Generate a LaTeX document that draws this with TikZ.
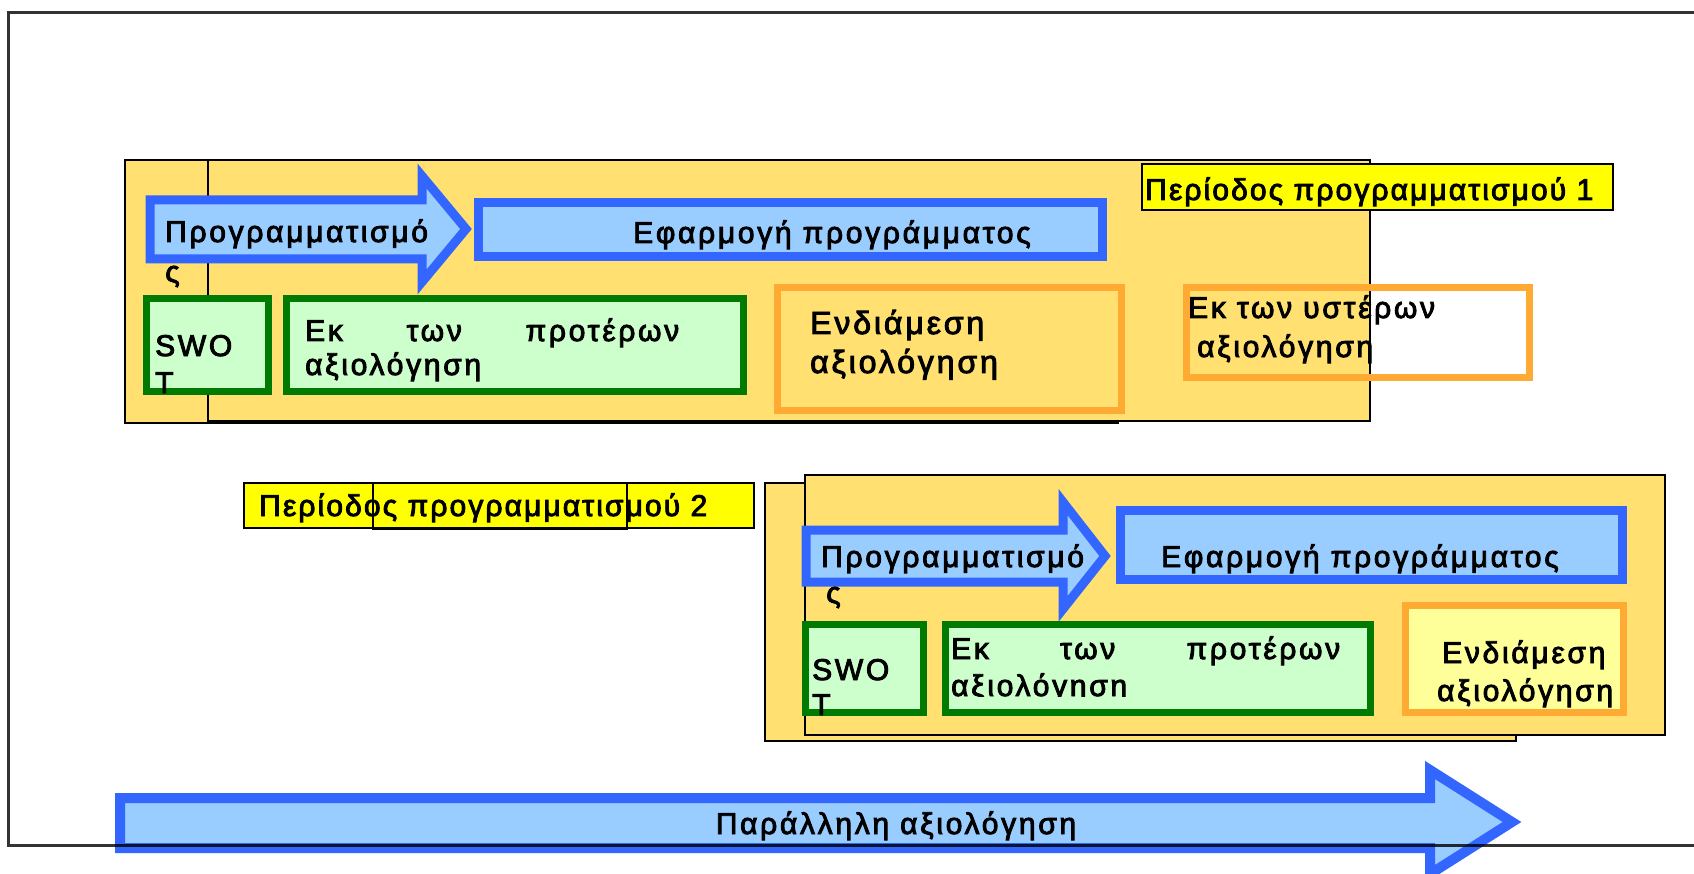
\documentclass[tikz,border=0pt]{standalone}
\usepackage{fontspec}
\setmainfont{Liberation Sans}
\newfontfamily\trk{Liberation Sans}[LetterSpace=9, FakeBold=3]
\newfontfamily\trkb{Liberation Sans}[LetterSpace=9, FakeBold=3]
\newfontfamily\trkl{Liberation Sans}[LetterSpace=7, FakeBold=3]
\definecolor{bigfill}{HTML}{FFE070}
\definecolor{blueline}{HTML}{3366FF}
\definecolor{bluefill}{HTML}{99CCFF}
\definecolor{greenline}{HTML}{007A00}
\definecolor{greenfill}{HTML}{CCFFCC}
\definecolor{orangeline}{HTML}{FFAA33}
\definecolor{paleyellow}{HTML}{FFFF99}
\definecolor{labelyellow}{HTML}{FFFF00}
\tikzset{
  bigbox/.style={draw=black, line width=2pt, fill=bigfill},
  bluebox/.style={draw=blueline, line width=9pt, fill=bluefill, line join=miter, miter limit=20},
  greenbox/.style={draw=greenline, line width=7pt, fill=greenfill},
  orangebox/.style={draw=orangeline, line width=7pt},
  labelbox/.style={draw=black, line width=2pt, fill=labelyellow},
  txt/.style={inner sep=0pt, anchor=base west, font={\trk\fontsize{30}{34}\selectfont}},
  txtc/.style={txt, anchor=base},
  txtbig/.style={inner sep=0pt, anchor=base west, font={\trkb\fontsize{32}{36}\selectfont}},
  lbltxt/.style={inner sep=0pt, anchor=base west, font={\trkl\fontsize{30}{34}\selectfont}},
}
\begin{document}
\begin{tikzpicture}[x=1pt,y=-1pt]
\useasboundingbox (0,0) rectangle (1694,874);
\clip (0,0) rectangle (1694,874);
\fill[white] (0,0) rectangle (1694,874);

% ---------- period 1 ----------
\path[bigbox] (125,160) rectangle (1118,423);
\path[bigbox] (208,160) rectangle (1370,421);
\path[labelbox] (1142,164) rectangle (1613,210);
\node[lbltxt] (lab1) at (1145,200) {Περίοδος προγραμματισμού 1};

\path[bluebox] (150,200) -- (422,200) -- (422,176) -- (466,229) -- (422,282) -- (422,259) -- (150,259) -- cycle;
\path[bluebox] (478,203) rectangle (1102,257);
\node[txt] (p1prog) at (165,242) {Προγραμματισμό};
\node[txt] (p1s) at (165,282) {ς};
\node[txtc] (p1eff) at (832,243) {Εφαρμογή προγράμματος};

\path[greenbox] (146.5,298.5) rectangle (268.5,391.5);
\path[greenbox] (286,298.5) rectangle (743,391.5);
\node[txt] (p1swo) at (155,356) {SWO};
\node[txt] (p1t) at (155,393) {T};
\node[txt] (p1pro) at (305,341) {\hbox to 374pt{Εκ\hfill των\hfill προτέρων}};
\node[txt] (p1axi) at (305,375) {αξιολόγηση};

\path[orangebox] (777,288) rectangle (1121,410);
\node[txtbig] (p1end) at (810,334) {Ενδιάμεση};
\node[txtbig] (p1enda) at (810,373) {αξιολόγηση};

\path[orangebox] (1186,288) rectangle (1529,377);
\node[txt] (p1ust) at (1188,318) {Εκ των υστέρων};
\node[txt] (p1usta) at (1197,357) {αξιολόγηση};

% ---------- period 2 ----------
\path[labelbox] (244,483) rectangle (754,528);
\node[lbltxt] (lab2) at (259,516) {Περίοδος προγραμματισμού 2};
\draw[black, line width=2pt] (373,483) rectangle (627,529);

\path[bigbox] (765,483) rectangle (1516,741);
\path[bigbox] (805,475) rectangle (1665,735);

\path[bluebox] (806,530) -- (1063,530) -- (1063,502) -- (1105,556) -- (1063,609) -- (1063,582) -- (806,582) -- cycle;
\path[bluebox] (1120,510) rectangle (1622,579);
\node[txt] (p2prog) at (821,567) {Προγραμματισμό};
\node[txt] (p2s) at (826,603) {ς};
\node[txtc] (p2eff) at (1360,567) {Εφαρμογή προγράμματος};

\path[greenbox] (805.5,624.5) rectangle (923.5,712.5);
\path[greenbox] (945.5,624.5) rectangle (1370.5,712.5);
\node[txt] (p2swo) at (812,680) {SWO};
\node[txt] (p2t) at (812,715) {T};
\node[txt] (p2pro) at (951,659) {\hbox to 389pt{Εκ\hfill των\hfill προτέρων}};
\begin{scope}
\clip (940,600) rectangle (1380,696);
\node[txt] (p2axi) at (951,696) {αξιολόγηση};
\end{scope}

\path[orangebox, fill=paleyellow] (1405,605) rectangle (1623,712);
\node[txt] (p2end) at (1442,663) {Ενδιάμεση};
\node[txt] (p2enda) at (1437,701) {αξιολόγηση};

% ---------- parallel evaluation ----------
\path[bluebox, line width=10pt] (120,798) -- (1430,798) -- (1430,770) -- (1512,822) -- (1430,874) -- (1430,848) -- (120,848) -- cycle;
\node[txtc] (par) at (896,834) {Παράλληλη αξιολόγηση};

% ---------- frame ----------
\draw[black, opacity=0.8, line width=3pt] (1694,13) -- (8.5,13) -- (8.5,845) -- (1694,845);
\end{tikzpicture}
\end{document}
